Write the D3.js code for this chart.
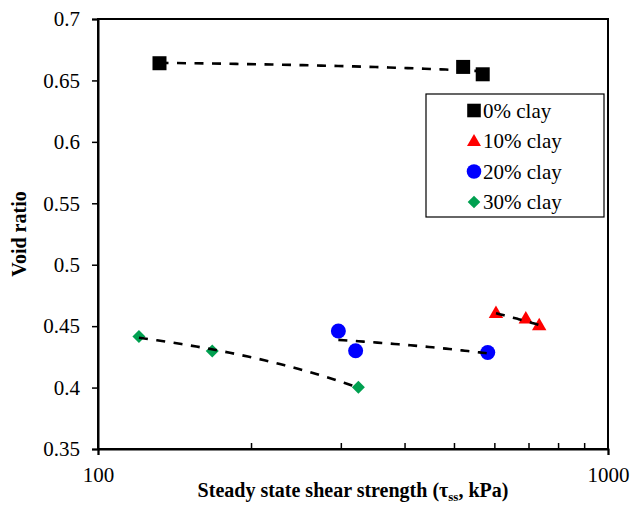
<!DOCTYPE html>
<html>
<head>
<meta charset="utf-8">
<script src="https://cdn.jsdelivr.net/npm/d3@7"></script>
<style>
  body { margin: 0; background: #fff; }
  svg text { font-family: "Times New Roman", "Liberation Serif", "DejaVu Serif", serif !important; }
</style>
</head>
<body>
<script>
// data
const series = ["0% clay", "10% clay", "20% clay", "30% clay"];
const colors = ["#000000", "#ff0000", "#0000ff", "#00a050"];
const shapes = ["square", "triangle", "circle", "diamond"];

const clay0x = [132, 520, 568];
const clay0y = [0.664, 0.661, 0.655];
const clay10x = [603, 690, 733];
const clay10y = [0.460, 0.4555, 0.450];
const clay20x = [296, 320, 581];
const clay20y = [0.446, 0.430, 0.4285];
const clay30x = [120.3, 167.5, 324];
const clay30y = [0.4415, 0.4298, 0.4002];

const yTicks = [0.35, 0.4, 0.45, 0.5, 0.55, 0.6, 0.65, 0.7];
const xMajor = [100, 1000];
const xMinor = [200, 300, 400, 500, 600, 700, 800, 900];

const allX = [clay0x, clay10x, clay20x, clay30x];
const allY = [clay0y, clay10y, clay20y, clay30y];

const W = 630, H = 519;
const serif = '"Times New Roman", "Liberation Serif", serif';
const svg = d3.select("body").append("svg").attr("width", W).attr("height", H);

const x = d3.scaleLog().domain([100, 1000]).range([98, 608]);
const y = d3.scaleLinear().domain([0.35, 0.7]).range([449, 19]);

// plot frame
svg.append("rect")
  .attr("x", 98).attr("y", 19)
  .attr("width", 510).attr("height", 430)
  .attr("fill", "none").attr("stroke", "#000").attr("stroke-width", 2);

// y axis
const yAxis = svg.append("g").attr("transform", "translate(98,0)")
  .attr("font-family", serif)
  .call(d3.axisLeft(y).tickValues(yTicks).tickFormat(d3.format("")).tickSize(6));
yAxis.select(".domain").attr("stroke-width", 2);
yAxis.selectAll("line").attr("stroke-width", 1.5);
yAxis.selectAll("text").attr("font-size", 21).attr("dx", -9)
  .style("font-family", serif).attr("fill", "#000");

// x axis: major ticks outside, minor ticks inside
const xAxis = svg.append("g").attr("transform", "translate(0,449)")
  .attr("font-family", serif)
  .call(d3.axisBottom(x).tickValues(xMajor).tickFormat(d3.format("d")).tickSize(6));
xAxis.select(".domain").attr("stroke-width", 2);
xAxis.selectAll("line").attr("stroke-width", 1.5);
xAxis.selectAll("text").attr("font-size", 21).attr("dy", "1.15em")
  .style("font-family", serif).attr("fill", "#000");

svg.append("g").selectAll("line").data(xMinor).enter().append("line")
  .attr("x1", d => x(d)).attr("x2", d => x(d))
  .attr("y1", 449).attr("y2", 443)
  .attr("stroke", "#000").attr("stroke-width", 1.5);

// markers
function marker(g, shape, color, cx, cy, k) {
  if (shape === "square") {
    g.append("rect").attr("x", cx - 7 * k).attr("y", cy - 7 * k).attr("width", 14 * k).attr("height", 14 * k).attr("fill", color);
  } else if (shape === "triangle") {
    g.append("path").attr("d", d3.symbol(d3.symbolTriangle, 90 * k * k)()).attr("transform", `translate(${cx},${cy})`).attr("fill", color);
  } else if (shape === "circle") {
    g.append("circle").attr("cx", cx).attr("cy", cy).attr("r", 7.5 * k).attr("fill", color);
  } else {
    g.append("path").attr("d", d3.symbol(d3.symbolSquare, 85 * k * k)()).attr("transform", `translate(${cx},${cy}) rotate(45)`).attr("fill", color);
  }
}

const pts = svg.append("g");
allX.forEach((xs, i) => {
  xs.forEach((v, j) => marker(pts, shapes[i], colors[i], x(v), y(allY[i][j]), 1));
});

// linear trend lines (drawn on the log axis, so they bend)
function fit(xs, ys) {
  const mx = d3.mean(xs), my = d3.mean(ys);
  let sxy = 0, sxx = 0;
  xs.forEach((v, i) => { sxy += (v - mx) * (ys[i] - my); sxx += (v - mx) * (v - mx); });
  const b = sxy / sxx;
  return v => my + b * (v - mx);
}

const line = d3.line().x(d => x(d[0])).y(d => y(d[1]));
allX.forEach((xs, i) => {
  const f = fit(xs, allY[i]);
  const lo = d3.min(xs), hi = d3.max(xs);
  const p = d3.range(0, 41).map(k => {
    const v = lo + (hi - lo) * k / 40;
    return [v, f(v)];
  });
  svg.append("path").attr("d", line(p))
    .attr("fill", "none").attr("stroke", "#000")
    .attr("stroke-width", 2.6).attr("stroke-dasharray", "9,8.5");
});

// legend
const lg = svg.append("g");
lg.append("rect").attr("x", 426).attr("y", 94).attr("width", 178).attr("height", 123)
  .attr("fill", "#fff").attr("stroke", "#000").attr("stroke-width", 1.2);
series.forEach((s, i) => {
  const ry = 110.5 + i * 30.5;
  marker(lg, shapes[i], colors[i], 474, ry + (shapes[i] === "triangle" ? 1 : 0), 0.97);
  lg.append("text").attr("x", 483).attr("y", ry + 7).attr("font-size", 21)
    .style("font-family", serif).text(s);
});

// axis titles
svg.append("text")
  .attr("transform", "translate(26,234) rotate(-90)")
  .attr("text-anchor", "middle").attr("font-size", 20).attr("font-weight", "bold")
  .style("font-family", serif)
  .text("Void ratio");

const xt = svg.append("text")
  .attr("x", 353).attr("y", 497)
  .attr("text-anchor", "middle").attr("font-size", 20).attr("font-weight", "bold")
  .style("font-family", serif);
xt.append("tspan").text("Steady state shear strength (τ");
xt.append("tspan").attr("font-size", 13).attr("dy", 4).text("ss");
xt.append("tspan").attr("dy", -4).text(", kPa)");
</script>
</body>
</html>
